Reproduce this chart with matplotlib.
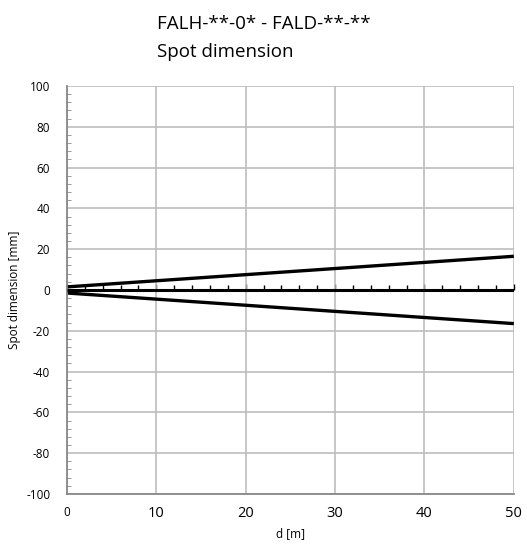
import matplotlib
matplotlib.use('Agg')
import matplotlib.pyplot as plt
from matplotlib.ticker import MultipleLocator, NullFormatter

plt.rcParams['font.family'] = ['Open Sans', 'DejaVu Sans']

# data
d = [0, 50]
upper = [1.5, 16.5]
lower = [-1.5, -16.5]
axis_line = [0, 0]
x_ticks = [0, 10, 20, 30, 40, 50]
y_ticks = list(range(-100, 101, 20))

fig = plt.figure(figsize=(5.27, 5.44), dpi=100)
ax = fig.add_axes([0.127, 0.092, 0.848, 0.750])

ax.plot(d, upper, color='black', lw=2.4, solid_capstyle='butt')
ax.plot(d, lower, color='black', lw=2.4, solid_capstyle='butt')
ax.plot(d, axis_line, color='black', lw=2.2, solid_capstyle='butt', zorder=3)

ax.set_xlim(0, 50)
ax.set_ylim(-100, 100)
ax.set_xticks(x_ticks)
ax.set_yticks(y_ticks)
ax.set_xticklabels([str(v) for v in x_ticks], fontsize=10.5)
ax.get_xticklabels()[0].set_fontsize(8.5)
ax.set_yticklabels([str(v) for v in y_ticks], fontsize=8.5)
ax.yaxis.set_minor_locator(MultipleLocator(4))
ax.tick_params(axis='y', which='both', direction='in', length=3, color='#888888', pad=12)
ax.tick_params(axis='y', which='major', length=0)
ax.tick_params(axis='x', which='both', length=0, pad=9)
ax.grid(True, which='major', color='#bdbdbd', lw=1.2)
for s in ['top', 'right']:
    ax.spines[s].set_visible(False)
for s in ['left', 'bottom']:
    ax.spines[s].set_color('#888888')
    ax.spines[s].set_linewidth(1.3)

# small upward ticks on the zero axis
zx = ax.secondary_xaxis(0.5)
for sp in zx.spines.values():
    sp.set_visible(False)
zx.set_xticks(x_ticks)
zx.set_xticklabels([])
zx.xaxis.set_minor_locator(MultipleLocator(2))
zx.xaxis.set_minor_formatter(NullFormatter())
zx.tick_params(which='both', direction='out', length=3.5, width=1, color='black')
zx.tick_params(which='major', length=4)

ax.set_xlabel('d [m]', fontsize=8.5, labelpad=4)
ax.set_ylabel('Spot dimension [mm]', fontsize=8.5, labelpad=4)

fig.text(0.298, 0.955, 'FALH-**-0* - FALD-**-**', fontsize=13.5, va='center', ha='left')
fig.text(0.298, 0.905, 'Spot dimension', fontsize=13.5, va='center', ha='left')

fig.savefig('out.png', dpi=100)
